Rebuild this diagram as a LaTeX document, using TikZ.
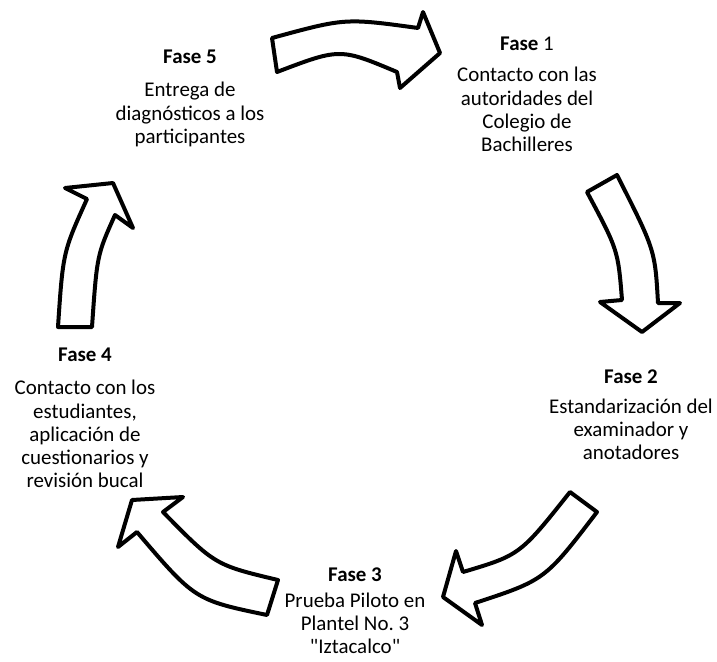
\documentclass[tikz,border=0pt]{standalone}
\usepackage{fontspec}
\setmainfont{Carlito}
\usetikzlibrary{positioning}
\tikzset{
  fase/.style={align=center, inner sep=0pt, anchor=north, font=\fontsize{21}{23.3}\selectfont},
  block arrow/.style={draw, line width=4bp, line join=round, fill=white},
  }

\begin{document}
\begin{tikzpicture}[x=1bp,y=-1bp]
            \useasboundingbox (0,0) rectangle (717,662);

            % Phases
            \node[fase] (fase1) at (527,37) {\textbf{Fase} 1\\[8bp] Contacto con las\\ autoridades del\\ Colegio de\\ Bachilleres};
            \node[fase] (fase2) at (631,370) {\textbf{Fase 2}\\[6bp] Estandarización del\\ examinador y\\ anotadores};
            \node[fase] (fase3) at (355,568) {\textbf{Fase 3}\\[2bp] Prueba Piloto en\\ Plantel No.\ 3\\ \textquotedbl Iztacalco\textquotedbl};
            \node[fase] (fase4) at (85,348) {\textbf{Fase 4}\\[10bp] Contacto con los\\ estudiantes,\\ aplicación de\\ cuestionarios y\\ revisión bucal};
            \node[fase] (fase5) at (190,50) {\textbf{Fase 5}\\[10bp] Entrega de\\ diagnósticos a los\\ participantes};

            % Arrows
            \draw[block arrow] (272,38) .. controls (345,18) .. (418,28) -- (423,12) -- (440,53) -- (400,88) -- (397,72) .. controls (340,48) .. (277,72) -- cycle;
            \draw[block arrow] (587,192) .. controls (618,250) .. (622,300) -- (600,302) -- (642,332) -- (680,303) -- (658,303) .. controls (655,250) .. (617,175) -- cycle;
            \draw[block arrow] (570,492) .. controls (520,555) .. (463,572) -- (456,551) -- (443,597) -- (482,625) -- (475,603) .. controls (545,580) .. (597,512) -- cycle;
            \draw[block arrow] (278,580) .. controls (215,565) .. (163,512) -- (183,497) -- (132,500) -- (118,547) -- (137,532) .. controls (195,600) .. (267,615) -- cycle;
            \draw[block arrow] (58,327) .. controls (63,252) .. (87,199) -- (65,188) -- (113,183) -- (133,228) -- (115,215) .. controls (97,255) .. (92,327) -- cycle;
\end{tikzpicture}
\end{document}
